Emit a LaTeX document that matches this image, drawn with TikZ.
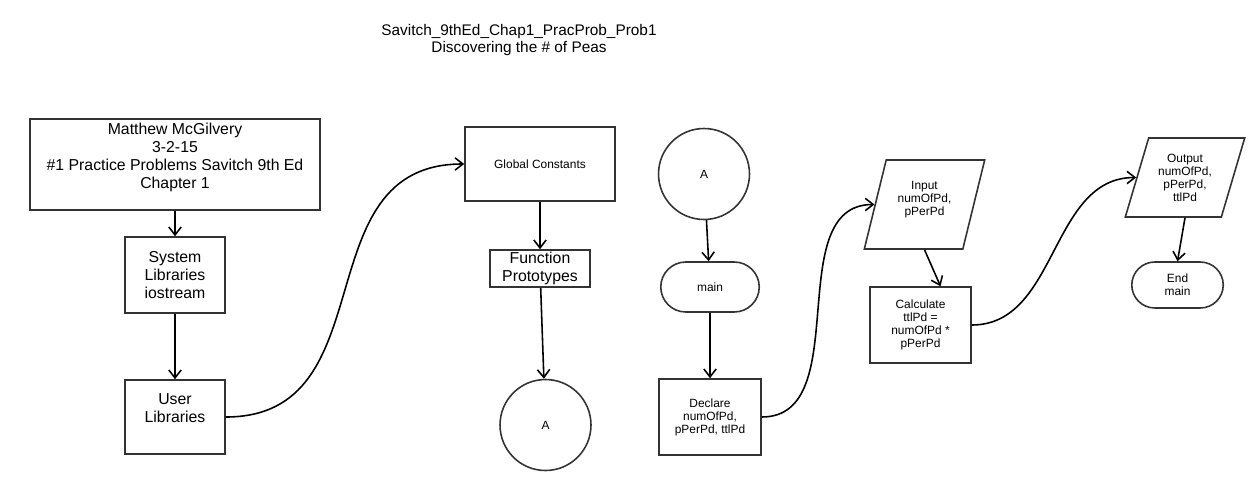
\documentclass[tikz,border=0pt]{standalone}
\usepackage{fontspec}
\setmainfont{Liberation Sans}
\usetikzlibrary{arrows.meta,shapes.geometric,shapes.misc}
\tikzset{
	box/.style={draw=black!80, line width=0.9pt, align=center, inner sep=1pt},
	big/.style={font=\fontsize{9}{10.2}\selectfont},
	small/.style={font=\fontsize{6.8}{7.4}\selectfont},
	io/.style={box, small, trapezium, trapezium stretches=true, inner sep=0pt},
	arr/.style={line width=0.9pt, -{Straight Barb[length=4.5pt,width=7pt]}},
}
\begin{document}
\begin{tikzpicture}[x=0.02cm, y=-0.02cm]
		\useasboundingbox (0,0) rectangle (1256,490);
		
		\node[align=center, font=\fontsize{8.75}{9.4}\selectfont] (title) at (519,40) {Savitch\_9thEd\_Chap1\_PracProb\_Prob1\\Discovering the \# of Peas};
		
		% left column
		\node[box, big, minimum width=5.8cm, minimum height=1.82cm] (hdr) at (175,164.5) {Matthew McGilvery\\3-2-15\\\#1 Practice Problems Savitch 9th Ed\\Chapter 1\\~};
		\node[box, big, minimum width=2cm, minimum height=1.52cm] (sys) at (175,275) {System\\Libraries\\iostream};
		\node[box, big, minimum width=2cm, minimum height=1.48cm] (usr) at (175,417) {User\\Libraries\\~};
		
		\draw[arr] (hdr) -- (sys);
		\draw[arr] (sys) -- (usr);
		
		% globals
		\node[box, small, minimum width=3cm, minimum height=1.48cm] (glob) at (540,164) {Global Constants};
		\node[box, big, minimum width=2cm, minimum height=0.74cm] (proto) at (540,268.5) {Function\\Prototypes};
		\node[box, small, circle, minimum size=1.82cm] (conA) at (545.5,425) {A};
		
		\draw[arr] (usr.east) to[out=0, in=180, looseness=1.2] (glob.west);
		\draw[arr] (glob) -- (proto);
		\draw[arr] (proto) -- (conA);
		
		% main
		\node[box, small, circle, minimum size=1.82cm] (conB) at (704,174) {A};
		\node[box, small, rounded rectangle, minimum width=2.04cm, minimum height=1cm] (mainb) at (710,287) {main};
		\node[box, small, minimum width=2.04cm, minimum height=1.52cm] (decl) at (710,417) {Declare\\numOfPd,\\pPerPd, ttlPd};
		
		\draw[arr] (conB) -- (mainb);
		\draw[arr] (mainb) -- (decl);
		
		\node[io, trapezium left angle=72, trapezium right angle=108, minimum width=2.42cm, minimum height=1.78cm] (inp) at (924.5,204.5) {Input\\numOfPd,\\pPerPd\\~};
		\node[box, small, minimum width=2.02cm, minimum height=1.52cm] (calc) at (920.5,325) {Calculate\\ttlPd =\\numOfPd *\\pPerPd};
		
		\draw[arr] (decl.east) to[out=0, in=180] (inp.west);
		\draw[arr] (inp.south) -- ([xshift=0.4cm]calc.north);
		
		\node[io, trapezium left angle=70, trapezium right angle=110, minimum width=2.4cm, minimum height=1.58cm] (outp) at (1185,177.5) {Output\\numOfPd,\\pPerPd,\\ttlPd};
		\node[box, small, rounded rectangle, minimum width=1.9cm, minimum height=0.92cm] (endm) at (1177.5,285) {End\\main};
		
		\draw[arr] (calc.east) to[out=0, in=180] (outp.west);
		\draw[arr] (outp.south) -- (endm.north);
		
	\end{tikzpicture}
\end{document}
